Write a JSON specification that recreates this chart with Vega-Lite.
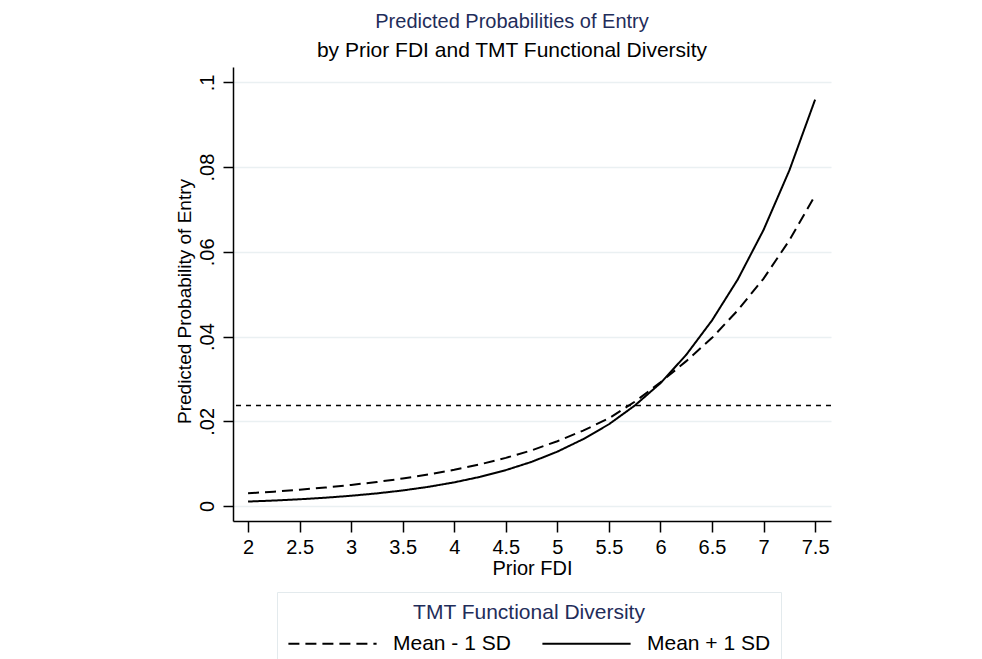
{
  "$schema": "https://vega.github.io/schema/vega-lite/v6.json",
  "autosize": {"type": "none"},
  "width": 598,
  "height": 454,
  "padding": {"left": 233, "top": 67, "right": 151, "bottom": 138},
  "background": "white",
  "config": {
    "font": "Liberation Sans",
    "view": {"stroke": null}
  },
  "title": {
    "text": "Predicted Probabilities of Entry",
    "subtitle": "by Prior FDI and TMT Functional Diversity",
    "anchor": "middle",
    "frame": "group",
    "dx": -20,
    "fontSize": 20,
    "fontWeight": "normal",
    "color": "#1f2d5a",
    "subtitleFontSize": 21,
    "subtitleColor": "#000000",
    "subtitlePadding": 8,
    "offset": 6
  },
  "datasets": {
    "curves": [
      {"fdi": 2.0, "prob": 0.00301, "group": "Mean - 1 SD"},
      {"fdi": 2.25, "prob": 0.00339, "group": "Mean - 1 SD"},
      {"fdi": 2.5, "prob": 0.00385, "group": "Mean - 1 SD"},
      {"fdi": 2.75, "prob": 0.00436, "group": "Mean - 1 SD"},
      {"fdi": 3.0, "prob": 0.00497, "group": "Mean - 1 SD"},
      {"fdi": 3.25, "prob": 0.00567, "group": "Mean - 1 SD"},
      {"fdi": 3.5, "prob": 0.00649, "group": "Mean - 1 SD"},
      {"fdi": 3.75, "prob": 0.00744, "group": "Mean - 1 SD"},
      {"fdi": 4.0, "prob": 0.00854, "group": "Mean - 1 SD"},
      {"fdi": 4.25, "prob": 0.00984, "group": "Mean - 1 SD"},
      {"fdi": 4.5, "prob": 0.01136, "group": "Mean - 1 SD"},
      {"fdi": 4.75, "prob": 0.01314, "group": "Mean - 1 SD"},
      {"fdi": 5.0, "prob": 0.0153, "group": "Mean - 1 SD"},
      {"fdi": 5.25, "prob": 0.0178, "group": "Mean - 1 SD"},
      {"fdi": 5.5, "prob": 0.0207, "group": "Mean - 1 SD"},
      {"fdi": 5.75, "prob": 0.0246, "group": "Mean - 1 SD"},
      {"fdi": 6.0, "prob": 0.0292, "group": "Mean - 1 SD"},
      {"fdi": 6.25, "prob": 0.0342, "group": "Mean - 1 SD"},
      {"fdi": 6.5, "prob": 0.0397, "group": "Mean - 1 SD"},
      {"fdi": 6.75, "prob": 0.0462, "group": "Mean - 1 SD"},
      {"fdi": 7.0, "prob": 0.0537, "group": "Mean - 1 SD"},
      {"fdi": 7.25, "prob": 0.0627, "group": "Mean - 1 SD"},
      {"fdi": 7.5, "prob": 0.0733, "group": "Mean - 1 SD"},
      {"fdi": 2.0, "prob": 0.00105, "group": "Mean + 1 SD"},
      {"fdi": 2.25, "prob": 0.00129, "group": "Mean + 1 SD"},
      {"fdi": 2.5, "prob": 0.00159, "group": "Mean + 1 SD"},
      {"fdi": 2.75, "prob": 0.00196, "group": "Mean + 1 SD"},
      {"fdi": 3.0, "prob": 0.00242, "group": "Mean + 1 SD"},
      {"fdi": 3.25, "prob": 0.00298, "group": "Mean + 1 SD"},
      {"fdi": 3.5, "prob": 0.00367, "group": "Mean + 1 SD"},
      {"fdi": 3.75, "prob": 0.00453, "group": "Mean + 1 SD"},
      {"fdi": 4.0, "prob": 0.00558, "group": "Mean + 1 SD"},
      {"fdi": 4.25, "prob": 0.00688, "group": "Mean + 1 SD"},
      {"fdi": 4.5, "prob": 0.00847, "group": "Mean + 1 SD"},
      {"fdi": 4.75, "prob": 0.01042, "group": "Mean + 1 SD"},
      {"fdi": 5.0, "prob": 0.01283, "group": "Mean + 1 SD"},
      {"fdi": 5.25, "prob": 0.01578, "group": "Mean + 1 SD"},
      {"fdi": 5.5, "prob": 0.0193, "group": "Mean + 1 SD"},
      {"fdi": 5.75, "prob": 0.0237, "group": "Mean + 1 SD"},
      {"fdi": 6.0, "prob": 0.029, "group": "Mean + 1 SD"},
      {"fdi": 6.25, "prob": 0.0357, "group": "Mean + 1 SD"},
      {"fdi": 6.5, "prob": 0.04382, "group": "Mean + 1 SD"},
      {"fdi": 6.75, "prob": 0.0535, "group": "Mean + 1 SD"},
      {"fdi": 7.0, "prob": 0.06519, "group": "Mean + 1 SD"},
      {"fdi": 7.25, "prob": 0.07922, "group": "Mean + 1 SD"},
      {"fdi": 7.5, "prob": 0.09595, "group": "Mean + 1 SD"}
    ],
    "reference": [{"baseline": 0.0237}]
  },
  "layer": [
    {
      "data": {"name": "reference"},
      "mark": {"type": "rule", "color": "#000000", "strokeWidth": 1.5, "strokeDash": [5, 5]},
      "encoding": {
        "y": {"field": "baseline", "type": "quantitative", "scale": {"domain": [-0.00354, 0.10364], "nice": false, "zero": false}}
      }
    },
    {
      "data": {"name": "curves"},
      "mark": {"type": "line", "color": "#000000", "strokeWidth": 2, "clip": true},
      "encoding": {
        "x": {
          "field": "fdi",
          "type": "quantitative",
          "scale": {"domain": [1.854, 7.654], "nice": false, "zero": false},
          "axis": {
            "title": "Prior FDI",
            "values": [2, 2.5, 3, 3.5, 4, 4.5, 5, 5.5, 6, 6.5, 7, 7.5],
            "labelExpr": "format(datum.value, '~g')",
            "grid": false,
            "domainColor": "#000000",
            "domainWidth": 1.5,
            "tickColor": "#000000",
            "tickWidth": 1.5,
            "tickSize": 11,
            "labelFontSize": 20,
            "labelColor": "#000000",
            "labelPadding": 5,
            "labelFlush": false,
            "labelOverlap": false,
            "titleFontSize": 20,
            "titleFontWeight": "normal",
            "titleColor": "#000000",
            "titlePadding": 1
          }
        },
        "y": {
          "field": "prob",
          "type": "quantitative",
          "scale": {"domain": [-0.00354, 0.10364], "nice": false, "zero": false},
          "axis": {
            "title": "Predicted Probability of Entry",
            "titleY": 234,
            "values": [0, 0.02, 0.04, 0.06, 0.08, 0.1],
            "labelExpr": "datum.value == 0 ? '0' : slice(format(datum.value, '.2~f'), 1)",
            "grid": true,
            "gridColor": "#eaf0f2",
            "gridWidth": 1.5,
            "domainColor": "#000000",
            "domainWidth": 1.5,
            "tickColor": "#000000",
            "tickWidth": 1.5,
            "tickSize": 10,
            "labelAngle": -90,
            "labelAlign": "center",
            "labelBaseline": "bottom",
            "labelFontSize": 20,
            "labelColor": "#000000",
            "labelPadding": 6,
            "labelFlush": false,
            "labelOverlap": false,
            "titleFontSize": 19,
            "titleFontWeight": "normal",
            "titleColor": "#000000",
            "titlePadding": 3
          }
        },
        "strokeDash": {
          "field": "group",
          "type": "nominal",
          "scale": {"domain": ["Mean - 1 SD", "Mean + 1 SD"], "range": [[11, 6], [1, 0]]},
          "legend": {
            "title": "TMT Functional Diversity",
            "orient": "none",
            "direction": "horizontal",
            "legendX": 44,
            "legendY": 525,
            "titleAnchor": "middle",
            "titleFontSize": 21,
            "titleFontWeight": "normal",
            "titleColor": "#1f2d5a",
            "titlePadding": 10,
            "titleLimit": 600,
            "labelFontSize": 21,
            "labelColor": "#000000",
            "labelLimit": 300,
            "labelOffset": 50,
            "columnPadding": 27,
            "symbolType": "M-4.9,0H4.9",
            "symbolSize": 324,
            "symbolOffset": 35,
            "symbolStrokeWidth": 2,
            "symbolStrokeColor": "#000000",
            "padding": 10,
            "fillColor": "#ffffff",
            "strokeColor": "#e3eaed"
          }
        }
      }
    }
  ]
}
